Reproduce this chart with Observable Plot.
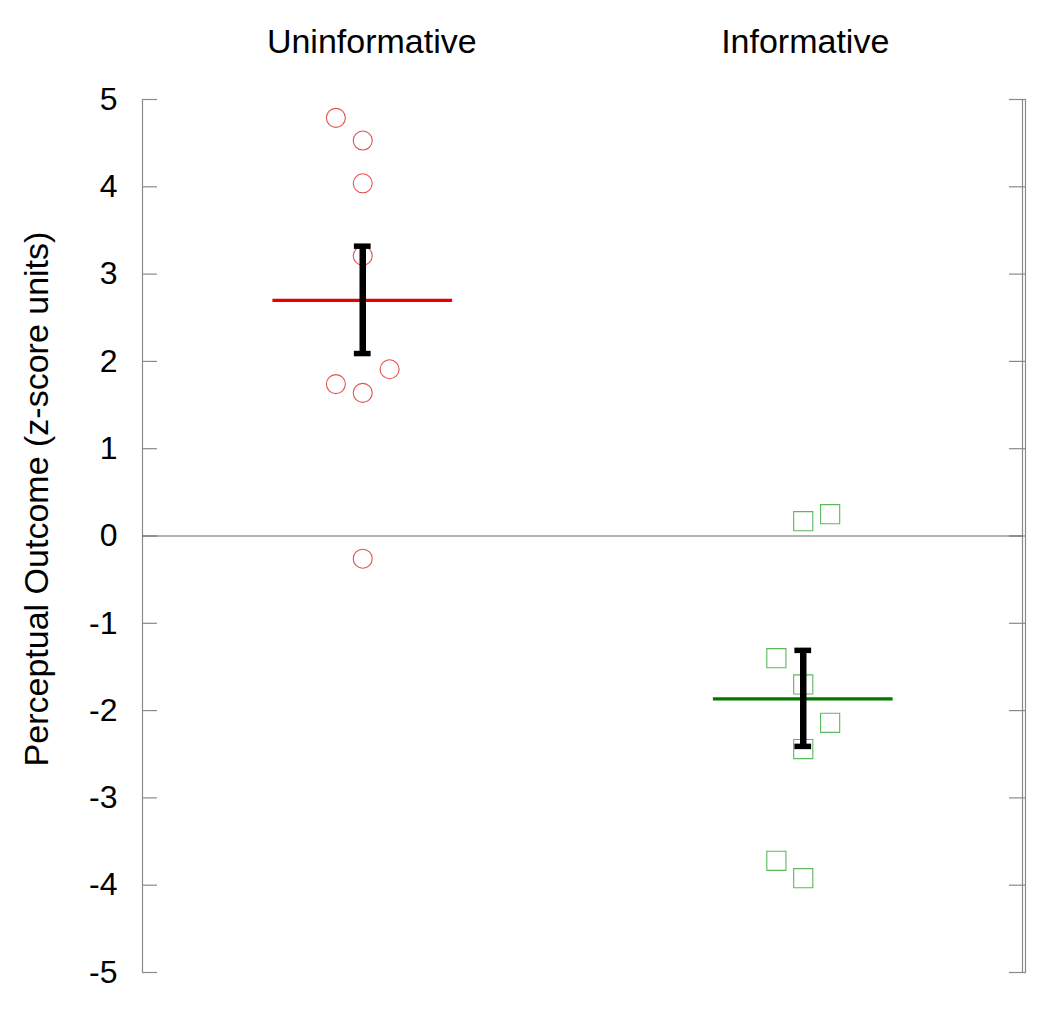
<!DOCTYPE html>
<html>
<head>
<meta charset="utf-8">
<script src="https://cdn.jsdelivr.net/npm/d3@7"></script>
<script src="https://cdn.jsdelivr.net/npm/@observablehq/plot@0.6"></script>
<style>
  html, body { margin: 0; padding: 0; background: #fff; }
  #chart svg { display: block; }
</style>
</head>
<body>
<div id="chart"></div>
<script>
const categories = ["Uninformative", "Informative"];
const uninformativeValues = [4.79, 4.53, 4.04, 3.21, 1.91, 1.74, 1.64, -0.26];
const uninformativeSlots  = [-1, 0, 0, 0, 1, -1, 0, 0];
const informativeValues   = [0.17, 0.25, -1.40, -1.70, -2.14, -2.44, -3.72, -3.92];
const informativeSlots    = [0, 1, -1, 0, 1, 0, -1, 0];
const means   = [2.70, -1.865];
const errLow  = [2.09, -2.41];
const errHigh = [3.32, -1.31];
const yTicks  = [-5, -4, -3, -2, -1, 0, 1, 2, 3, 4, 5];
const yLabel  = "Perceptual Outcome (z-score units)";

const xDomain = [0.5, 2.5];
const jitter = 0.061;
const meanHalf = 0.204;
const capHalf = 0.019;

const pts1 = uninformativeValues.map((v, i) => ({x: 1 + uninformativeSlots[i] * jitter, y: v}));
const pts2 = informativeValues.map((v, i) => ({x: 2 + informativeSlots[i] * jitter, y: v}));
const summary = categories.map((c, i) => ({cat: c, x: i + 1, mean: means[i], lo: errLow[i], hi: errHigh[i]}));
const meanColors = ["#e60000", "#007700"];

const font = "'Liberation Sans', Arial, sans-serif";
const grey = "#8a8a8a";

const chart = Plot.plot({
  width: 1050,
  height: 1011,
  marginLeft: 142,
  marginRight: 27,
  marginTop: 99,
  marginBottom: 39,
  style: {fontFamily: font, background: "#fff"},
  x: {domain: xDomain, axis: null},
  y: {domain: [-5, 5], axis: null},
  marks: [
    // axis lines
    Plot.ruleX([xDomain[0]], {stroke: grey, strokeWidth: 1.2}),
    Plot.ruleX([xDomain[1]], {stroke: grey, strokeWidth: 1.2, dx: -1}),
    Plot.ruleX([xDomain[1]], {stroke: grey, strokeWidth: 1.2, dx: 2}),
    // left ticks (inward) + labels
    Plot.axisY(yTicks, {anchor: "left", tickSize: 15, dx: 15, text: null, stroke: grey, strokeWidth: 1.2}),
    Plot.axisY(yTicks, {anchor: "left", tickSize: 0, tickPadding: 25, fontSize: 32, fill: "#000", tickFormat: d => d < 0 ? "-" + Math.abs(d) : String(d)}),
    // right ticks (inward)
    Plot.axisY(yTicks, {anchor: "right", tickSize: 17, dx: -15, text: null, stroke: grey, strokeWidth: 1.2}),
    // zero line
    Plot.ruleY([0], {stroke: "#666", strokeWidth: 1.2}),
    // points
    Plot.dot(pts1, {x: "x", y: "y", symbol: "circle", r: 9.5, stroke: "#e85050", strokeWidth: 1.1, fill: "none"}),
    Plot.dot(pts2, {x: "x", y: "y", symbol: "square", r: 10.8, stroke: "#5cb85c", strokeWidth: 1.1, fill: "none"}),
    // mean lines
    Plot.ruleY(summary, {y: "mean", x1: d => d.x - meanHalf, x2: d => d.x + meanHalf, stroke: (d, i) => meanColors[i], strokeWidth: 3.2}),
    // error bars
    Plot.ruleX(summary, {x: "x", y1: "lo", y2: "hi", stroke: "#000", strokeWidth: 6.5}),
    Plot.ruleY(summary, {y: "hi", x1: d => d.x - capHalf, x2: d => d.x + capHalf, stroke: "#000", strokeWidth: 5.5}),
    Plot.ruleY(summary, {y: "lo", x1: d => d.x - capHalf, x2: d => d.x + capHalf, stroke: "#000", strokeWidth: 5.5}),
    // category labels
    Plot.text([summary[0]], {x: "x", text: "cat", frameAnchor: "top", lineAnchor: "middle", dy: -57, dx: 9, fontSize: 34, fill: "#000"}),
    Plot.text([summary[1]], {x: "x", text: "cat", frameAnchor: "top", lineAnchor: "middle", dy: -57, dx: 2, fontSize: 34, fill: "#000"}),
    // y label
    Plot.text([yLabel], {text: d => d, frameAnchor: "left", textAnchor: "middle", lineAnchor: "middle", rotate: -90, dx: -105, dy: -37, fontSize: 34, fill: "#000"})
  ]
});
document.getElementById("chart").appendChild(chart);
</script>
</body>
</html>
